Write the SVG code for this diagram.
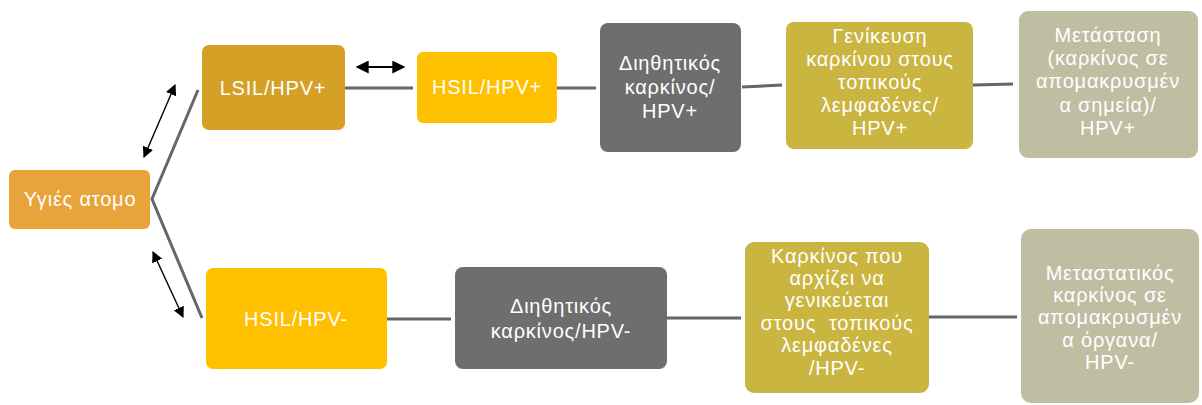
<svg xmlns="http://www.w3.org/2000/svg" width="1202" height="405" viewBox="0 0 1202 405">
<defs>
<style>
.box{stroke:none}
.t{font-family:"Liberation Sans","DejaVu Sans",sans-serif;font-size:20px;fill:#ffffff;text-anchor:middle;letter-spacing:0.8px}
.c{stroke:#666666;stroke-width:3;fill:none}
.a{stroke:#000;stroke-width:1.4;fill:none}
</style>
<marker id="ah" viewBox="0 0 10 10" refX="9" refY="5" markerWidth="11" markerHeight="11" markerUnits="userSpaceOnUse" orient="auto-start-reverse">
<path d="M0,0 L10,5 L0,10 z" fill="#000"/>
</marker>
<marker id="ah2" viewBox="0 0 10 10" refX="9" refY="5" markerWidth="13" markerHeight="13" markerUnits="userSpaceOnUse" orient="auto-start-reverse">
<path d="M0,0 L10,5 L0,10 z" fill="#000"/>
</marker>
</defs>
<rect width="1202" height="405" fill="#ffffff"/>
<g id="connectors">
<path class="c" d="M198,90 L152,199 L202,318"/>
<path class="c" d="M345,88 L413,88"/>
<path class="c" d="M557,88 L596,88"/>
<path class="c" d="M742,87 L782,85"/>
<path class="c" d="M973,85 L1013,84"/>
<path class="c" d="M387,319 L451,319"/>
<path class="c" d="M667,318 L741,318"/>
<path class="c" d="M929,317 L1017,317"/>
<path class="a" d="M175,85 L144,157" marker-start="url(#ah)" marker-end="url(#ah)"/>
<path class="a" d="M153,252 L183,317" marker-start="url(#ah)" marker-end="url(#ah)"/>
<path class="a" style="stroke-width:2" d="M357,67 L404,67" marker-start="url(#ah2)" marker-end="url(#ah2)"/>
</g>
<g id="n1"><rect class="box" x="9" y="170" width="141" height="59" rx="6" fill="#E8A33B"/><text class="t" x="80" y="206">Υγιές ατομο</text></g>
<g id="n2"><rect class="box" x="202" y="45" width="143" height="85" rx="7" fill="#D4A025"/><text class="t" x="273" y="95">LSIL/HPV+</text></g>
<g id="n3"><rect class="box" x="417" y="52" width="140" height="71" rx="6" fill="#FFC000"/><text class="t" x="487" y="94">HSIL/HPV+</text></g>
<g id="n4"><rect class="box" x="600" y="23" width="141" height="129" rx="8" fill="#6E6E6E"/><text class="t" x="670" y="70">Διηθητικός<tspan x="670" y="94">καρκίνος/</tspan><tspan x="670" y="118">HPV+</tspan></text></g>
<g id="n5"><rect class="box" x="786" y="22" width="187" height="127" rx="8" fill="#C9B53F"/><text class="t" x="880" y="43">Γενίκευση<tspan x="880" y="66">καρκίνου στους</tspan><tspan x="880" y="89">τοπικούς</tspan><tspan x="880" y="112">λεμφαδένες/</tspan><tspan x="880" y="135">HPV+</tspan></text></g>
<g id="n6"><rect class="box" x="1019" y="11" width="179" height="147" rx="9" fill="#BFBEA3"/><text class="t" x="1108" y="42">Μετάσταση<tspan x="1108" y="65">(καρκίνος σε</tspan><tspan x="1108" y="88">απομακρυσμέν</tspan><tspan x="1108" y="112">α σημεία)/</tspan><tspan x="1108" y="135">HPV+</tspan></text></g>
<g id="n7"><rect class="box" x="206" y="268" width="181" height="101" rx="7" fill="#FFC000"/><text class="t" x="296" y="326">HSIL/HPV-</text></g>
<g id="n8"><rect class="box" x="455" y="267" width="212" height="102" rx="8" fill="#6E6E6E"/><text class="t" x="561" y="313">Διηθητικός<tspan x="561" y="338">καρκίνος/HPV-</tspan></text></g>
<g id="n9"><rect class="box" x="745" y="242" width="184" height="151" rx="9" fill="#C9B53F"/><text class="t" x="837" y="263">Καρκίνος που<tspan x="837" y="285">αρχίζει να</tspan><tspan x="837" y="307">γενικεύεται</tspan><tspan x="837" y="330" xml:space="preserve">στους  τοπικούς</tspan><tspan x="837" y="352">λεμφαδένες</tspan><tspan x="837" y="375">/HPV-</tspan></text></g>
<g id="n10"><rect class="box" x="1021" y="229" width="178" height="174" rx="10" fill="#BFBEA3"/><text class="t" x="1110" y="280">Μεταστατικός<tspan x="1110" y="302">καρκίνος σε</tspan><tspan x="1110" y="324">απομακρυσμέν</tspan><tspan x="1110" y="347">α όργανα/</tspan><tspan x="1110" y="369">HPV-</tspan></text></g>
</svg>
